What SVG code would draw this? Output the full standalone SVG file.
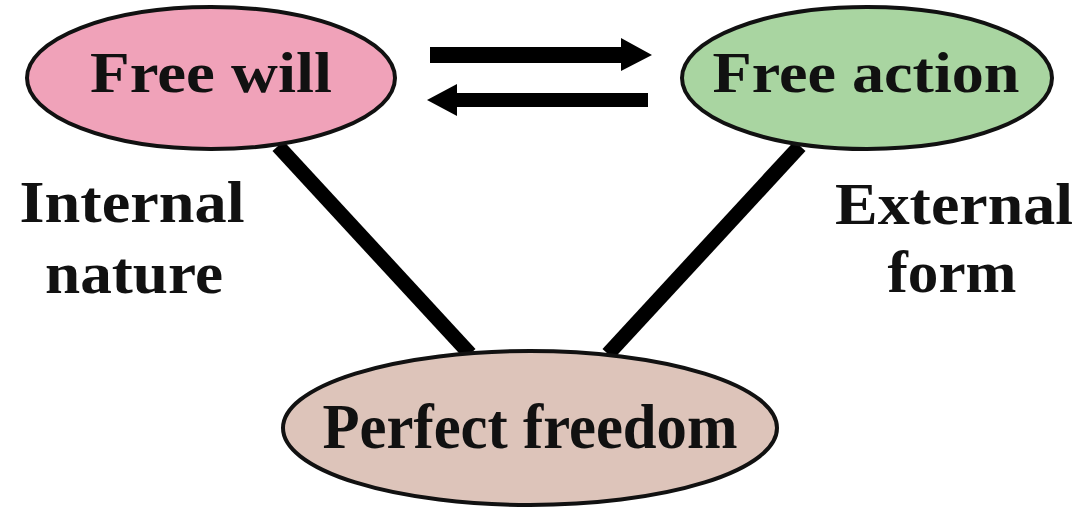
<svg xmlns="http://www.w3.org/2000/svg" width="1081" height="510" viewBox="0 0 1081 510">
<style>
.node{stroke:#111;stroke-width:4}
.t{font-family:"Liberation Serif","Times New Roman",serif;font-weight:bold;fill:#111}
.conn{stroke:#000;stroke-width:15;fill:none}
</style>
<rect width="1081" height="510" fill="#fff"/>
<g id="connectors">
<line class="conn" x1="278" y1="146" x2="470" y2="354"/>
<line class="conn" x1="800" y1="146" x2="608" y2="354"/>
<polygon id="arrow-right" fill="#000" points="430,47 621,47 621,38 652,55 621,71 621,63 430,63"/>
<polygon id="arrow-left" fill="#000" points="648,93 457,93 457,84 427,100 457,116 457,107 648,107"/>
</g>
<g id="free-will">
<ellipse class="node" cx="211" cy="78" rx="184" ry="71" fill="#F0A2B9"/>
<text class="t" x="211" y="92" font-size="56" text-anchor="middle" textLength="242" lengthAdjust="spacingAndGlyphs">Free will</text>
</g>
<g id="free-action">
<ellipse class="node" cx="867" cy="78" rx="185" ry="71" fill="#A9D5A1"/>
<text class="t" x="866" y="92" font-size="56" text-anchor="middle" textLength="307" lengthAdjust="spacingAndGlyphs">Free action</text>
</g>
<g id="perfect-freedom">
<ellipse class="node" cx="530" cy="428" rx="247" ry="77" fill="#DDC4BA"/>
<text class="t" x="530" y="448" font-size="64" text-anchor="middle" textLength="415" lengthAdjust="spacingAndGlyphs">Perfect freedom</text>
</g>
<g id="label-internal">
<text class="t" x="132" y="222" font-size="60" text-anchor="middle" textLength="225" lengthAdjust="spacingAndGlyphs">Internal</text>
<text class="t" x="134" y="293" font-size="60" text-anchor="middle" textLength="178" lengthAdjust="spacingAndGlyphs">nature</text>
</g>
<g id="label-external">
<text class="t" x="954" y="224" font-size="60" text-anchor="middle" textLength="238" lengthAdjust="spacingAndGlyphs">External</text>
<text class="t" x="952" y="292" font-size="60" text-anchor="middle" textLength="129" lengthAdjust="spacingAndGlyphs">form</text>
</g>
</svg>
